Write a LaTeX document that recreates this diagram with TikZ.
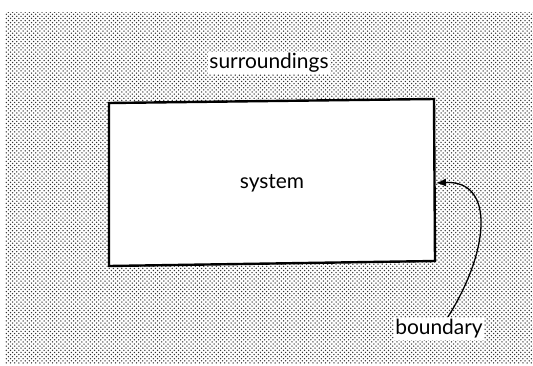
\documentclass[tikz,border=0pt]{standalone}
\usepackage{fontspec}
\setmainfont{Lato}
\usetikzlibrary{patterns,arrows.meta}
% staggered dot screen for the surroundings
\pgfdeclarepatternformonly{stipple}{\pgfqpoint{-1bp}{-1bp}}{\pgfqpoint{3.2bp}{3.2bp}}{\pgfqpoint{4.2bp}{4.2bp}}{%
  \pgfpathcircle{\pgfqpoint{0bp}{0bp}}{0.75bp}%
  \pgfpathcircle{\pgfqpoint{2.1bp}{2.1bp}}{0.75bp}%
  \pgfusepath{fill}}
\begin{document}
\begin{tikzpicture}[x=1bp,y=-1bp,
  label/.style={font=\fontsize{21}{24}\selectfont, inner sep=1.5bp},
  tag/.style={label, fill=white},
  wall/.style={line width=2.4bp, line join=miter},
  pointer/.style={line width=1.3bp, -{Latex[length=10bp,width=8bp]}}]
  \useasboundingbox (0,0) rectangle (533,365);
  % paper and stippled surroundings
  \fill[white] (0,0) rectangle (533,365);
  \fill[pattern=stipple, pattern color=black!80] (5,12) rectangle (533,363);
  % the system: a slightly skewed white box
  \coordinate (tl) at (109,103);
  \coordinate (tr) at (434,99);
  \coordinate (br) at (435,261);
  \coordinate (bl) at (109,266);
  \filldraw[wall, fill=white] (tl) -- (tr) -- (br) -- (bl) -- cycle;
  \coordinate (edge) at (436,183);
  % labels
  \node[tag] (surr) at (269,63) {surroundings};
  \node[label] (sys) at (272,183) {system};
  \node[tag] (bnd) at (439,329) {boundary};
  % arrow to the boundary
  \draw[pointer] (bnd.north) ++(9,-1) coordinate (start)
    .. controls (490,250) and (495,180) .. (edge);
\end{tikzpicture}
\end{document}
